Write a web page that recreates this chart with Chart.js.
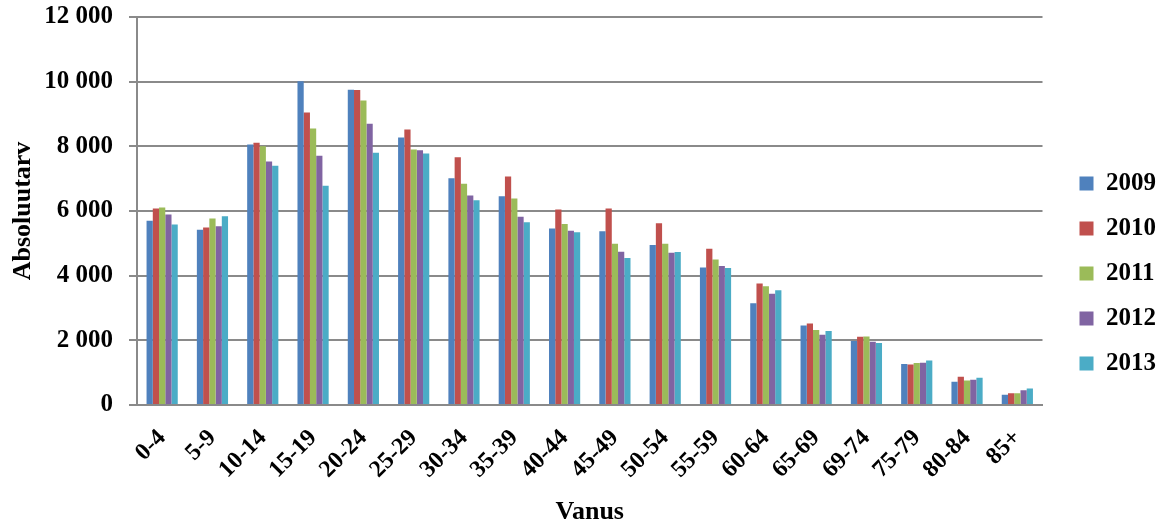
<!DOCTYPE html>
<html>
<head>
<meta charset="utf-8">
<script src="https://cdn.jsdelivr.net/npm/chart.js@4.4.1/dist/chart.umd.min.js"></script>
<style>
  html, body { margin: 0; padding: 0; background: #ffffff; }
  #wrap { width: 1162px; height: 524px; }
</style>
</head>
<body>
<div id="wrap"><canvas id="c" width="1162" height="524"></canvas></div>
<script>
// Age groups (Vanus) and yearly absolute counts
const ageGroups = ['0-4', '5-9', '10-14', '15-19', '20-24', '25-29', '30-34', '35-39', '40-44',
  '45-49', '50-54', '55-59', '60-64', '65-69', '69-74', '75-79', '80-84', '85+'];
const years = ['2009', '2010', '2011', '2012', '2013'];
const values2009 = [5700, 5420, 8060, 10010, 9750, 8270, 7010, 6460, 5460, 5370, 4950, 4250, 3150, 2460, 1980, 1270, 720, 320];
const values2010 = [6080, 5490, 8110, 9050, 9740, 8520, 7660, 7070, 6050, 6080, 5620, 4830, 3760, 2520, 2110, 1250, 870, 360];
const values2011 = [6110, 5770, 8000, 8550, 9420, 7900, 6840, 6390, 5600, 4990, 4990, 4500, 3670, 2320, 2120, 1300, 760, 360];
const values2012 = [5890, 5530, 7530, 7710, 8700, 7880, 6480, 5820, 5390, 4740, 4710, 4300, 3440, 2170, 1960, 1310, 780, 460];
const values2013 = [5580, 5840, 7400, 6780, 7800, 7780, 6330, 5650, 5340, 4550, 4730, 4240, 3550, 2290, 1920, 1380, 840, 510];
const yTickValues = [0, 2000, 4000, 6000, 8000, 10000, 12000];

const seriesValues = [values2009, values2010, values2011, values2012, values2013];
const seriesColors = ['#4F81BD', '#C0504D', '#9BBB59', '#8064A2', '#4BACC6'];

const FONT = "'Liberation Serif', 'Times New Roman', serif";
const GRID = '#8a8a8a';

// thousands with a space: 12 000
function spaced(v) {
  return String(v).replace(/\B(?=(\d{3})+(?!\d))/g, ' ');
}

// nudges the legend block into place after the layout pass
const legendShift = {
  id: 'legendShift',
  afterLayout(chart) {
    const lg = chart.legend;
    if (!lg) return;
    const dx = 17, dy = 3;
    lg.left += dx; lg.right += dx;
    lg.top += dy; lg.bottom += dy;
  }
};

new Chart(document.getElementById('c'), {
  type: 'bar',
  data: {
    labels: ageGroups,
    datasets: years.map((y, i) => ({
      label: y,
      data: seriesValues[i],
      backgroundColor: seriesColors[i],
      borderWidth: 0,
      categoryPercentage: 0.62,
      barPercentage: 1.0
    }))
  },
  options: {
    responsive: false,
    animation: false,
    devicePixelRatio: 1,
    layout: { padding: { top: 17, right: 13, bottom: 0, left: 0 } },
    plugins: {
      tooltip: { enabled: false },
      legend: {
        position: 'right',
        align: 'center',
        labels: {
          boxWidth: 14,
          boxHeight: 14,
          padding: 20,
          color: '#000000',
          font: { family: FONT, size: 25, weight: 'bold' }
        }
      }
    },
    scales: {
      x: {
        grid: { display: false, drawTicks: false },
        border: { display: true, color: GRID, width: 2 },
        ticks: {
          color: '#000000',
          font: { family: FONT, size: 24, weight: 'bold' },
          minRotation: 45,
          maxRotation: 45,
          autoSkip: false,
          padding: 19
        },
        title: {
          display: true,
          text: 'Vanus',
          color: '#000000',
          font: { family: FONT, size: 26, weight: 'bold' },
          padding: { top: 0, bottom: -4 }
        },
        afterFit(scale) { scale.height = 119; }
      },
      y: {
        min: 0,
        max: 12000,
        afterBuildTicks(scale) { scale.ticks = yTickValues.map(v => ({ value: v })); },
        grid: { color: GRID, lineWidth: 2, drawTicks: true, tickLength: 8 },
        border: { display: true, color: GRID, width: 2 },
        ticks: {
          color: '#000000',
          font: { family: FONT, size: 25, weight: 'bold' },
          padding: 16,
          callback: (v) => spaced(v)
        },
        title: {
          display: true,
          text: 'Absoluutarv',
          color: '#000000',
          font: { family: FONT, size: 26, weight: 'bold' },
          padding: { top: 8, bottom: 0 }
        },
        afterFit(scale) {
          scale.width = 137;
          scale.paddingTop = 0;
          scale.paddingBottom = 0;
        }
      }
    }
  },
  plugins: [legendShift]
});
</script>
</body>
</html>
